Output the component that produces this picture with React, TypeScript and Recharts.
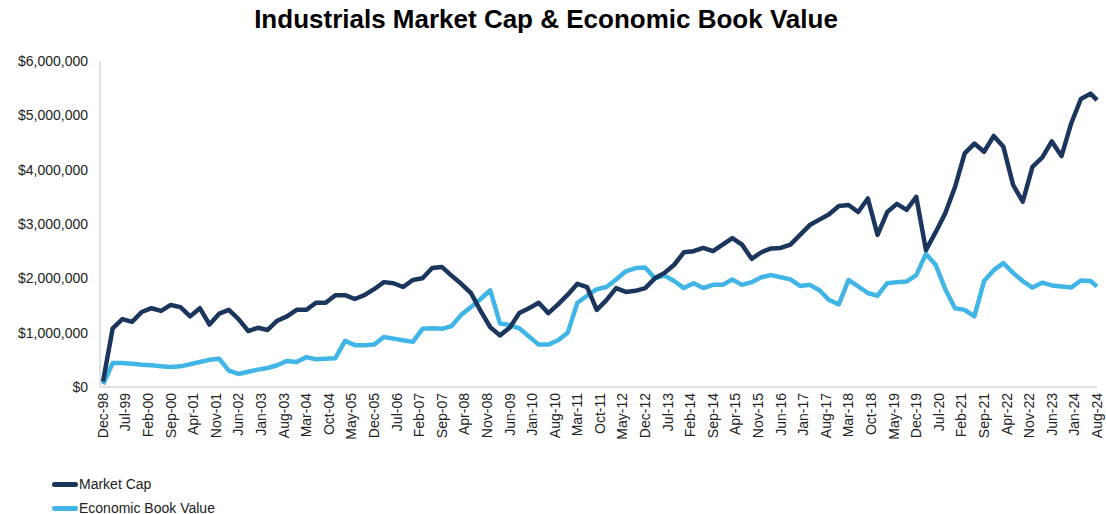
import React from "react";
import { LineChart, Line, XAxis, YAxis } from "recharts";

// values in $ millions, quarterly from Dec-98, last point Aug-24
const marketCap = [
  0.1, 1.08, 1.25, 1.2, 1.38, 1.45, 1.4, 1.51, 1.47, 1.3,
  1.45, 1.15, 1.35, 1.42, 1.25, 1.03, 1.09, 1.05, 1.22, 1.3,
  1.42, 1.42, 1.55, 1.55, 1.69, 1.69, 1.62, 1.69, 1.8, 1.93,
  1.91, 1.84, 1.97, 2.0, 2.19, 2.21, 2.05, 1.9, 1.73, 1.4,
  1.1, 0.95, 1.09, 1.36, 1.45, 1.55, 1.36, 1.52, 1.7, 1.9,
  1.84, 1.42, 1.6, 1.82, 1.75, 1.77, 1.82, 2.0, 2.1, 2.25,
  2.48, 2.5, 2.56, 2.5, 2.62, 2.74, 2.62, 2.36, 2.48, 2.55,
  2.56, 2.62, 2.8, 2.98, 3.08, 3.18, 3.33, 3.35, 3.22, 3.47,
  2.8, 3.22, 3.37, 3.26, 3.5, 2.52, 2.85, 3.2, 3.68, 4.3,
  4.48, 4.33, 4.62, 4.42, 3.72, 3.41, 4.05, 4.22, 4.52, 4.25,
  4.85, 5.3, 5.4, 5.28,
];

const economicBookValue = [
  0.05, 0.44, 0.44, 0.43, 0.41, 0.4, 0.38, 0.37, 0.38, 0.42,
  0.46, 0.5, 0.52, 0.3, 0.24, 0.28, 0.32, 0.35, 0.4, 0.48,
  0.46, 0.55, 0.51, 0.52, 0.53, 0.85, 0.77, 0.77, 0.78, 0.92,
  0.89, 0.86, 0.83, 1.07, 1.08, 1.07, 1.12, 1.33, 1.47, 1.62,
  1.78, 1.17, 1.14, 1.08, 0.93, 0.78, 0.78, 0.86, 1.0, 1.55,
  1.68, 1.8, 1.84, 1.98, 2.13, 2.19, 2.2, 2.0, 2.05, 1.95,
  1.82, 1.91, 1.82, 1.88, 1.88, 1.98, 1.88, 1.93, 2.02, 2.06,
  2.02, 1.98, 1.86, 1.88, 1.78, 1.6, 1.52, 1.97, 1.85, 1.73,
  1.68, 1.91, 1.93, 1.94, 2.06, 2.45, 2.25, 1.8, 1.45, 1.42,
  1.3, 1.95, 2.15, 2.28, 2.1, 1.95, 1.83, 1.92, 1.87, 1.85,
  1.83, 1.96, 1.95, 1.85,
];

// x-axis labels, one every 7 months starting Dec-98
const tickLabels = [
  "Dec-98", "Jul-99", "Feb-00", "Sep-00", "Apr-01", "Nov-01", "Jun-02", "Jan-03",
  "Aug-03", "Mar-04", "Oct-04", "May-05", "Dec-05", "Jul-06", "Feb-07", "Sep-07",
  "Apr-08", "Nov-08", "Jun-09", "Jan-10", "Aug-10", "Mar-11", "Oct-11", "May-12",
  "Dec-12", "Jul-13", "Feb-14", "Sep-14", "Apr-15", "Nov-15", "Jun-16", "Jan-17",
  "Aug-17", "Mar-18", "Oct-18", "May-19", "Dec-19", "Jul-20", "Feb-21", "Sep-21",
  "Apr-22", "Nov-22", "Jun-23", "Jan-24", "Aug-24",
];

const yTicks = [0, 1, 2, 3, 4, 5, 6];

const NAVY = "#1b365d";
const SKY = "#41b6e6";
const FONT = "'Liberation Sans', Arial, sans-serif";

// month offset from Dec-98 for each point: quarter ends, then Aug-24
const monthOffsets = marketCap.map((_, i) => (i < marketCap.length - 1 ? i * 3 : 308));
const data = monthOffsets.map((m, i) => ({
  m,
  marketCap: marketCap[i],
  ebv: economicBookValue[i],
}));
const xTicks = tickLabels.map((_, i) => i * 7);

const XTick = (props: any) => {
  const { x, y, payload } = props;
  const label = tickLabels[Math.round(payload.value / 7)];
  return (
    <text
      x={x}
      y={y}
      transform={`rotate(-90, ${x}, ${y})`}
      textAnchor="end"
      dy="0.35em"
      fontSize={14}
      fill="#222"
      fontFamily={FONT}
    >
      {label}
    </text>
  );
};

const LegendRow = ({ color, label }: { color: string; label: string }) => (
  <div style={{ display: "flex", alignItems: "center", height: 24 }}>
    <div style={{ width: 26, height: 5, borderRadius: 3, background: color }} />
    <span style={{ fontSize: 14, color: "#222", marginLeft: 1 }}>{label}</span>
  </div>
);

export default function App() {
  return (
    <div
      style={{
        position: "absolute",
        left: 0,
        top: 0,
        width: 1106,
        height: 514,
        background: "#fff",
        fontFamily: FONT,
      }}
    >
      <div
        style={{
          position: "absolute",
          top: 4,
          left: 0,
          width: 1092,
          textAlign: "center",
          fontSize: 26,
          fontWeight: "bold",
          color: "#000",
        }}
      >
        Industrials Market Cap &amp; Economic Book Value
      </div>
      <LineChart width={1106} height={514} data={data} margin={{ top: 61, right: 9, bottom: 0, left: 0 }}>
        <XAxis
          dataKey="m"
          type="number"
          domain={[0, 308]}
          ticks={xTicks}
          interval={0}
          tickSize={0}
          tickMargin={6}
          height={127}
          padding={{ left: 3, right: 0 }}
          tick={<XTick />}
          axisLine={{ stroke: "#d9d9d9", strokeWidth: 1.5 }}
        />
        <YAxis
          type="number"
          domain={[0, 6]}
          ticks={yTicks}
          width={100}
          tickSize={0}
          tickMargin={12}
          tick={{ fontSize: 14, fill: "#222", fontFamily: FONT }}
          tickFormatter={(v: number) => "$" + (v * 1000000).toLocaleString("en-US")}
          axisLine={{ stroke: "#d9d9d9", strokeWidth: 1.5 }}
        />
        <Line
          dataKey="ebv"
          name="Economic Book Value"
          type="linear"
          stroke={SKY}
          strokeWidth={4.5}
          strokeLinejoin="round"
          dot={false}
          isAnimationActive={false}
        />
        <Line
          dataKey="marketCap"
          name="Market Cap"
          type="linear"
          stroke={NAVY}
          strokeWidth={4.5}
          strokeLinejoin="round"
          dot={false}
          isAnimationActive={false}
        />
      </LineChart>
      <div style={{ position: "absolute", left: 52, top: 472 }}>
        <LegendRow color={NAVY} label="Market Cap" />
        <LegendRow color={SKY} label="Economic Book Value" />
      </div>
    </div>
  );
}
